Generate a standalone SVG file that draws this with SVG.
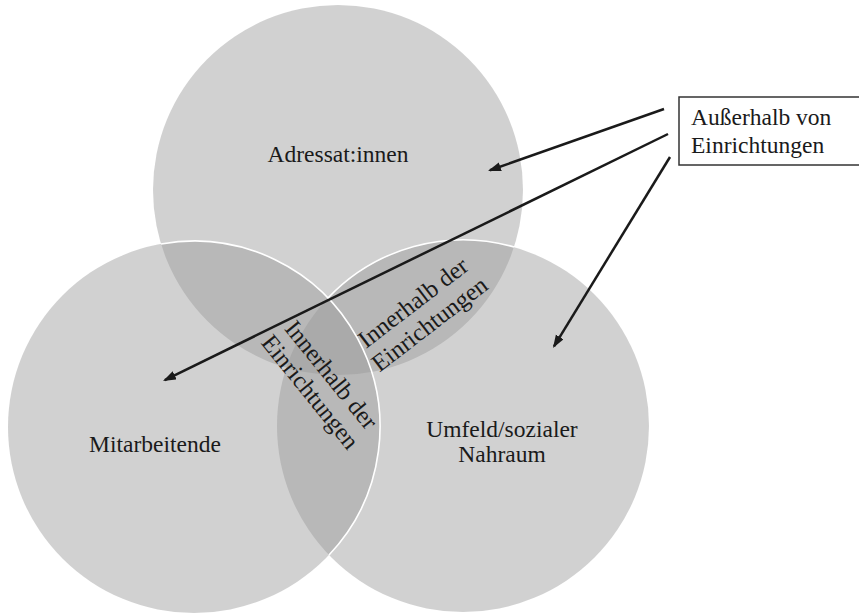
<svg xmlns="http://www.w3.org/2000/svg" width="859" height="615" viewBox="0 0 859 615">
  <style>
    .circ { fill: #9a9a9a; fill-opacity: 0.45; stroke: none; }
    .edge { fill: none; stroke: #ffffff; stroke-width: 1.6; }
    .lbl { font-family: "Liberation Serif", "Times New Roman", serif; font-size: 23.5px; fill: #1a1a1a; }
    .lens { font-size: 24.5px; }
    .mid { text-anchor: middle; }
    .conn { stroke: #1a1a1a; stroke-width: 2.5; fill: none; marker-end: url(#arrow); }
    .box { fill: #ffffff; stroke: #333333; stroke-width: 1.5; }
  </style>
  <defs>
    <marker id="arrow" markerUnits="userSpaceOnUse" markerWidth="14" markerHeight="10" refX="11" refY="4.5" orient="auto">
      <path d="M0,0 L13,4.5 L0,9 Z" fill="#1a1a1a"/>
    </marker>
  </defs>
  <rect width="859" height="615" fill="#ffffff"/>

  <g id="adressaten">
    <circle class="circ" cx="338" cy="190" r="185"/>
  </g>
  <g id="umfeld">
    <circle class="circ" cx="463" cy="426" r="186"/>
  </g>
  <g id="mitarbeitende">
    <circle class="circ" cx="194" cy="427" r="186"/>
  </g>
  <g id="edges">
    <path class="edge" d="M328,298 A186,186 0 0 1 514,247"/>
    <path class="edge" d="M161,244 A186,186 0 0 1 329,555"/>
  </g>

  <g id="label-adressaten">
    <text class="lbl mid" x="338" y="162">Adressat:innen</text>
  </g>
  <g id="label-mitarbeitende">
    <text class="lbl mid" x="155" y="452">Mitarbeitende</text>
  </g>
  <g id="label-umfeld">
    <text class="lbl mid" x="502" y="437">Umfeld/sozialer</text>
    <text class="lbl mid" x="502" y="462">Nahraum</text>
  </g>

  <g id="innerhalb-oben" transform="translate(418,309) rotate(-37.5)">
    <text class="lbl lens mid" x="0" y="0">Innerhalb der</text>
    <text class="lbl lens mid" x="0" y="27">Einrichtungen</text>
  </g>
  <g id="innerhalb-unten" transform="translate(325,380) rotate(51)">
    <text class="lbl lens mid" x="0" y="0">Innerhalb der</text>
    <text class="lbl lens mid" x="0" y="27">Einrichtungen</text>
  </g>

  <g id="ausserhalb">
    <rect class="box" x="679" y="97" width="190" height="68"/>
    <text class="lbl" x="691" y="125">Außerhalb von</text>
    <text class="lbl" x="691" y="153">Einrichtungen</text>
  </g>

  <g id="connectors">
    <line class="conn" x1="664" y1="109" x2="489.9" y2="170.3"/>
    <line class="conn" x1="668" y1="134" x2="164.8" y2="380.1"/>
    <line class="conn" x1="670" y1="157" x2="554" y2="346.3"/>
  </g>
</svg>
